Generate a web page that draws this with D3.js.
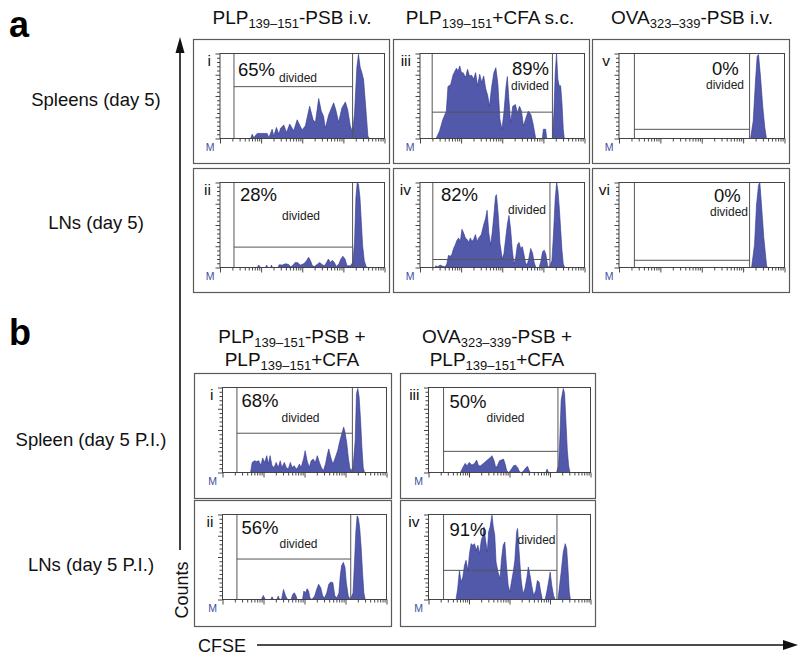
<!DOCTYPE html>
<html><head><meta charset="utf-8">
<script src="https://cdn.jsdelivr.net/npm/d3@7"></script>
<style>body{margin:0;background:#fff} svg{display:block}</style>
</head><body><svg id="c" width="800" height="661"></svg>
<script>
// ---------------- data ----------------
const panelNames = ["i","ii","iii","iv","v","vi","i","ii","iii","iv"];
const percentDivided = [65,28,89,82,0,0,68,56,50,91];
// marker gate (M1): left / right edge (relative log channel 0-100) and height (% of max count)
const gateLeft  = [8.5,8.5,7.4,7.8,9.3,9.3,8.8,8.8,9.3,9.3];
const gateRight = [80.6,80.6,80.5,79.0,78.9,78.9,79.2,78.2,79.9,79.3];
const gateLevel = [61,24,31,9.4,10.8,8.5,46.2,47.6,24.9,34.3];

// histograms: [relative log CFSE channel (0-100), counts (% of max)]
const histAi = [[18.6,0],[19.6,5],[20.6,1],[22.6,6],[28.7,6],[29.7,1],[31.7,11],[32.7,3],[34.3,13],[35.8,5],[36.8,12],[38.8,16],[40.4,7],[42.4,17],[44.8,9],[46.9,22],[49.9,10],[51.9,15],[54.5,38],[56.6,22],[58,19],[60,47],[61.6,32],[63,26],[64,12],[66.1,28],[69.1,42],[70.5,33],[72.1,19],[74.1,36],[76.2,43],[77.6,34],[79.2,15],[80.6,7],[81.8,30],[83.2,84],[84.2,99],[85.2,84],[86.3,77],[87.3,69],[88.7,34],[89.9,3],[90.7,0]];
const histAii = [[22.6,0],[23.6,2.8],[24.6,0],[27.7,0],[28.3,2.8],[29.1,0],[30.7,0],[31.3,2.8],[31.9,0],[35.2,0],[36.0,3.2],[37.8,2.8],[39.8,4.4],[41.8,3.6],[42.8,0.8],[44.0,2],[45.7,6],[47.3,5.6],[48.9,2.8],[50.9,4.4],[52.5,7.6],[53.9,12],[54.9,8.4],[56.2,2],[57.4,1.2],[59.0,3.6],[60.6,6],[62.0,3.6],[63.4,2],[64.6,5.2],[65.9,10],[67.1,6],[68.3,8.4],[69.5,6],[70.7,1.2],[72.3,4.4],[73.5,10],[74.7,13.2],[76.0,10],[77.2,2],[79.2,2],[80.8,6],[81.8,30],[82.6,82],[83.4,100],[84.2,98],[85.1,82],[85.9,54],[86.7,26],[87.7,8],[88.9,0.8],[89.7,0]];
const histAiii = [[9.8,0],[11.9,8.9],[13.9,22.5],[16.0,32.2],[17.0,61.2],[18.6,63.2],[20.1,74.8],[22.1,82.6],[23.2,79.8],[24.2,85.3],[25.2,77.5],[26.2,77.5],[27.7,71.7],[28.9,81.4],[30.1,73.6],[31.4,74.4],[32.6,69.8],[33.8,77.5],[35.0,62.0],[36.3,75.6],[37.5,65.9],[38.7,73.6],[40.0,58.1],[41.2,50.4],[42.2,38.0],[43.6,61.2],[44.9,77.5],[46.1,83.3],[47.3,65.1],[48.6,22.5],[49.8,10.9],[51.0,30.2],[52.3,61.2],[53.1,72.9],[53.9,49.6],[55.1,18.6],[56.4,38.0],[58.0,39.9],[59.2,30.2],[60.5,38.0],[61.7,32.2],[62.9,14.7],[64.1,22.5],[65.8,32.2],[67.4,28.3],[68.6,18.6],[69.7,7.0],[70.3,0],[74.4,0],[75.0,10.9],[76.4,10.9],[77.0,0],[80.5,0],[81.4,30.2],[82.2,76.7],[83.0,100],[83.8,69.8],[84.6,62.0],[85.5,62.0],[86.3,41.9],[87.1,10.9],[87.7,0]];
const histAiv = [[9.2,0],[9.6,2.0],[10.8,0.8],[12.2,2.9],[13.7,1.6],[15.3,0.8],[16.3,4.1],[17.3,14.3],[18.4,13.1],[19.4,15.5],[20.4,22.4],[21.4,26.5],[22.4,31.8],[23.5,34.7],[24.5,30.6],[25.5,44.9],[26.5,40.8],[27.6,34.7],[28.8,32.7],[29.6,29.4],[30.6,34.7],[31.6,30.6],[32.7,33.5],[33.7,38.8],[34.7,30.6],[35.7,34.7],[37.3,38.8],[38.8,51.0],[39.8,57.1],[40.8,67.3],[41.8,40.8],[42.9,26.5],[43.9,40.8],[44.9,61.2],[45.9,83.7],[46.5,85.7],[47.6,61.2],[48.6,28.6],[50.0,10.2],[51.0,16.3],[52.0,32.7],[53.1,51.0],[54.1,61.2],[55.1,44.9],[56.1,20.4],[57.1,4.1],[58.2,12.2],[59.2,26.5],[60.2,29.4],[61.2,22.4],[62.2,24.5],[63.3,14.3],[64.3,4.1],[65.3,4.1],[66.3,12.2],[67.3,22.4],[68.4,17.1],[69.4,6.1],[70.4,0],[72.4,0],[73.5,7.3],[74.5,18.4],[75.5,20.4],[76.5,15.5],[77.6,2.0],[78.6,0],[80.2,8.2],[81.2,40.8],[82.2,81.6],[83.1,100],[83.9,89.8],[84.7,69.4],[85.5,44.9],[86.3,20.4],[87.1,4.1],[88.0,0]];
const histAv = [[79.5,0],[81.1,20.8],[82.5,68.8],[83.5,96.8],[84.3,98.8],[85.5,72.8],[86.9,36.8],[88.1,12.8],[89.1,0]];
const histAvi = [[80.1,0],[81.9,27.1],[83.1,73.6],[84.3,96.9],[85.1,100],[86.1,73.6],[87.5,34.9],[89.1,3.9],[89.5,0]];
const histBi = [[17.1,0],[18.1,11.9],[19.5,13.8],[20.8,13.0],[22.2,13.8],[23.3,7.9],[24.5,17.0],[25.7,11.9],[27.0,19.8],[28.0,9.9],[29.0,19.8],[30.2,7.9],[31.5,5.9],[32.7,11.9],[34.0,5.9],[35.2,13.8],[36.2,5.9],[37.7,11.9],[38.9,5.9],[40.1,4.0],[41.4,11.9],[42.4,5.9],[43.8,7.9],[44.9,4.0],[45.9,5.9],[46.9,9.9],[47.9,5.9],[49.4,15.8],[50.4,25.7],[51.6,13.8],[52.9,5.9],[54.1,13.8],[55.3,15.8],[56.6,11.9],[57.8,19.8],[59.1,11.9],[60.3,5.9],[61.5,2.0],[62.8,9.9],[64.0,21.7],[64.8,27.7],[66.0,17.8],[67.3,9.9],[68.5,15.8],[70.2,25.7],[71.6,37.5],[73.0,47.4],[73.9,53.4],[74.7,47.4],[75.7,35.6],[76.7,17.8],[77.6,5.9],[78.4,2.0],[79.6,5.9],[80.9,37.5],[81.7,92.9],[82.5,98.8],[83.3,88.9],[84.2,61.3],[85.0,29.6],[85.8,5.9],[86.6,0]];
const histBii = [[23.7,0],[24.9,4.8],[26.1,0],[29.4,0],[30.2,3.2],[31.1,0],[33.1,0],[34.0,4.0],[34.8,0],[36.0,0],[37.2,11.9],[38.5,4.0],[39.7,0],[41.8,0],[42.8,6.0],[43.8,7.9],[44.9,4.0],[45.5,0],[48.8,0],[49.6,9.9],[50.6,7.9],[51.6,12.7],[52.5,9.9],[53.3,2.0],[54.5,0],[56.2,4.0],[57.4,11.9],[58.6,17.9],[59.9,13.9],[61.1,4.0],[62.3,2.0],[63.6,7.9],[64.8,17.9],[66.0,20.6],[67.3,19.8],[68.5,4.0],[69.8,2.0],[71.0,7.9],[71.8,27.8],[72.6,39.7],[73.7,43.7],[74.7,37.7],[75.5,19.8],[76.7,4.0],[78.0,0],[79.6,7.9],[80.5,43.7],[81.3,79.4],[82.1,98.4],[82.9,95.2],[83.7,83.3],[84.6,59.5],[85.4,31.7],[86.2,7.9],[87.0,0]];
const histBiii = [[19.7,0],[21.2,5.9],[22.6,10.7],[23.9,7.9],[25.1,11.9],[26.8,8.7],[28.4,10.7],[29.7,14.6],[30.9,7.9],[32.2,7.9],[33.4,9.9],[34.6,11.9],[36.3,14.6],[37.8,17.0],[39.2,19.8],[40.5,13.8],[41.5,5.9],[42.5,7.9],[43.8,13.8],[45.0,14.6],[46.3,15.8],[47.3,9.9],[48.3,2.0],[49.6,0],[51.2,4.0],[52.5,7.9],[53.7,8.7],[55.0,5.9],[56.2,0.8],[57.5,0],[58.7,2.0],[60.2,5.9],[61.2,7.1],[62.2,2.0],[62.9,0],[72.4,0],[73.2,4.0],[74.1,0],[79.0,0],[80.3,7.9],[81.1,41.5],[81.9,85.0],[83.2,98.8],[84.0,92.9],[84.9,57.3],[85.7,25.7],[86.5,7.9],[87.3,0]];
const histBiv = [[17.0,0],[18.0,12.6],[19.1,34.3],[20.1,20.5],[21.2,26.4],[22.2,40.2],[23.2,46.1],[24.3,34.3],[25.3,53.9],[26.3,65.7],[27.4,63.8],[28.4,65.7],[29.5,57.9],[30.5,63.8],[31.5,53.9],[32.6,69.7],[33.6,75.6],[34.2,85.4],[35.1,71.7],[36.3,55.9],[37.1,79.5],[38.0,85.4],[39.2,99.2],[40.0,85.4],[40.9,75.6],[41.7,44.1],[42.9,32.3],[44.2,24.4],[45.0,46.1],[46.1,63.8],[47.1,67.7],[48.1,40.2],[49.2,16.5],[50.2,8.7],[51.2,20.5],[52.3,32.3],[53.3,46.1],[54.4,79.5],[55.0,83.5],[55.8,59.8],[57.1,24.4],[58.3,6.7],[59.5,12.6],[60.8,26.4],[61.6,38.2],[62.7,28.3],[63.7,16.5],[64.9,4.7],[66.2,10.6],[67.2,22.4],[68.3,20.5],[69.3,8.7],[70.3,0],[72.0,0],[73.0,8.7],[74.1,20.5],[75.1,32.3],[76.1,16.5],[77.2,4.7],[78.2,0],[79.9,0],[80.7,12.6],[81.9,32.3],[83.2,55.9],[84.4,65.7],[85.3,59.8],[86.1,36.2],[86.9,8.7],[87.6,0]];
const histograms = [histAi, histAii, histAiii, histAiv, histAv, histAvi, histBi, histBii, histBiii, histBiv];

const titleA = [["PLP","139–151","-PSB i.v."],["PLP","139–151","+CFA s.c."],["OVA","323–339","-PSB i.v."]];
const titleB = [[["PLP","139–151","-PSB +"],["PLP","139–151","+CFA"]],[["OVA","323–339","-PSB +"],["PLP","139–151","+CFA"]]];
const rowLabelsA = ["Spleens (day 5)","LNs (day 5)"];
const rowLabelsB = ["Spleen (day 5 P.I.)","LNs (day 5 P.I.)"];
const cfseDomain = [1, 10000];   // 4 log decades
const channelDomain = [0, 100];
const countDomain = [0, 100];

// ---------------- layout ----------------
const boxes = [
  {x:193,y:39,w:196,h:124,fl:27},{x:193,y:168,w:196,h:124,fl:27},
  {x:393,y:39,w:196,h:124,fl:27},{x:393,y:168,w:196,h:124,fl:27},
  {x:592,y:39,w:197,h:124,fl:27},{x:592,y:168,w:197,h:124,fl:27},
  {x:194,y:373,w:197,h:125,fl:28.5},{x:194,y:500,w:197,h:126,fl:28.5},
  {x:400,y:373,w:195,h:125,fl:28.5},{x:400,y:500,w:195,h:126,fl:28.5}
];
const textPos = [
  [18,22,59,28],[20,18.4,62,37.7],[92,21,91,36],[21,18.4,88,31.7],[93,21.5,87,35],
  [95,19,91,33],[19,19,59,34.5],[19,19.7,57,33],[21,20.7,58,34],[21,21.7,89,29]
];

const FONT = "'Liberation Sans', Arial, Helvetica, sans-serif";
const svg = d3.select("#c");
const defs = svg.append("defs");

// panel letters
svg.append("text").attr("x",9).attr("y",37).attr("font-family",FONT).attr("font-weight","bold")
  .attr("font-size",36).text("a");
svg.append("text").attr("x",9).attr("y",345).attr("font-family",FONT).attr("font-weight","bold")
  .attr("font-size",36).text("b");

function subTitle(g, x, y, parts){
  const t = g.append("text").attr("x",x).attr("y",y).attr("text-anchor","middle")
    .attr("font-family",FONT).attr("font-size",19).attr("fill","#111");
  t.append("tspan").text(parts[0]);
  t.append("tspan").attr("font-size",13).attr("dy",4).text(parts[1]);
  t.append("tspan").attr("dy",-4).text(parts[2]);
}
const titleCentersA = [292, 490, 692];
titleA.forEach((p,i)=>subTitle(svg, titleCentersA[i], 24, p));
const titleCentersB = [292, 497];
titleB.forEach((lines,i)=>{ subTitle(svg,titleCentersB[i],343,lines[0]); subTitle(svg,titleCentersB[i],366,lines[1]); });

// row labels
const rowYA = [106, 229], rowYB = [446, 571];
rowLabelsA.forEach((t,i)=>svg.append("text").attr("x",96).attr("y",rowYA[i]).attr("text-anchor","middle")
  .attr("font-family",FONT).attr("font-size",18.5).attr("fill","#111").text(t));
rowLabelsB.forEach((t,i)=>svg.append("text").attr("x",91).attr("y",rowYB[i]).attr("text-anchor","middle")
  .attr("font-family",FONT).attr("font-size",18.5).attr("fill","#111").text(t));

// axes arrows
svg.append("line").attr("x1",180).attr("x2",180).attr("y1",550).attr("y2",50).attr("stroke","#111").attr("stroke-width",1.6);
svg.append("path").attr("d","M180,37 L175.5,53 L184.5,53 Z").attr("fill","#111");
svg.append("text").attr("transform","translate(188,590) rotate(-90)").attr("text-anchor","middle")
  .attr("font-family",FONT).attr("font-size",18).attr("fill","#111").text("Counts");
svg.append("line").attr("x1",257).attr("x2",786).attr("y1",645).attr("y2",645).attr("stroke","#111").attr("stroke-width",1.6);
svg.append("path").attr("d","M798,645 L783,640 L783,650 Z").attr("fill","#111");
svg.append("text").attr("x",198).attr("y",652).attr("font-family",FONT).attr("font-size",18).attr("fill","#111").text("CFSE");

// panels
boxes.forEach((b,i)=>{
  const g = svg.append("g");
  g.append("rect").attr("x",b.x+0.5).attr("y",b.y+0.5).attr("width",b.w).attr("height",b.h)
    .attr("fill","#fff").attr("stroke","#5a5a5a").attr("stroke-width",1.2);
  const fx0 = b.x + b.fl, fx1 = b.x + b.w - 4.5, fy0 = b.y + 14.5, fy1 = fy0 + 85;
  const x = d3.scaleLinear().domain(channelDomain).range([fx0, fx1]);
  const xLog = d3.scaleLog().domain(cfseDomain).range([fx0, fx1]);
  const y = d3.scaleLinear().domain(countDomain).range([fy1, fy0]);

  const cid = "clip"+i;
  defs.append("clipPath").attr("id",cid).append("rect").attr("x",fx0).attr("y",fy0-1).attr("width",fx1-fx0).attr("height",fy1-fy0+1);

  // histogram
  const area = d3.area().x(d=>x(d[0])).y0(y(0)).y1(d=>y(d[1]));
  g.append("path").datum(histograms[i]).attr("d",area).attr("clip-path",`url(#${cid})`)
    .attr("fill","#5259aa").attr("stroke","#303890").attr("stroke-width",0.6);

  // gate
  const gc = "#555";
  g.append("line").attr("x1",x(gateLeft[i])).attr("x2",x(gateLeft[i])).attr("y1",fy0).attr("y2",fy1).attr("stroke",gc).attr("stroke-width",1);
  g.append("line").attr("x1",x(gateRight[i])).attr("x2",x(gateRight[i])).attr("y1",fy0).attr("y2",fy1).attr("stroke",gc).attr("stroke-width",1);
  g.append("line").attr("x1",x(gateLeft[i])).attr("x2",x(gateRight[i])).attr("y1",y(gateLevel[i])).attr("y2",y(gateLevel[i])).attr("stroke",gc).attr("stroke-width",1);

  // frame
  g.append("rect").attr("x",fx0).attr("y",fy0).attr("width",fx1-fx0).attr("height",fy1-fy0)
    .attr("fill","none").attr("stroke","#444").attr("stroke-width",1);

  // x axis (log ticks)
  const major = xLog.ticks().filter(v=>Math.abs(Math.log10(v)-Math.round(Math.log10(v)))<1e-9);
  const minor = xLog.ticks().filter(v=>!major.includes(v));
  const axM = g.append("g").attr("transform",`translate(0,${fy1})`)
    .call(d3.axisBottom(xLog).tickValues(major).tickSize(5).tickFormat(""));
  const axm = g.append("g").attr("transform",`translate(0,${fy1})`)
    .call(d3.axisBottom(xLog).tickValues(minor).tickSize(3).tickFormat(""));
  // y axis
  const yTicks = d3.range(0, 101, 5);
  const axY = g.append("g").attr("transform",`translate(${fx0},0)`)
    .call(d3.axisLeft(y).tickValues(yTicks).tickSize(3).tickFormat(""));
  [axM,axm,axY].forEach(a=>{ a.select(".domain").remove(); a.selectAll("line").attr("stroke","#333").attr("stroke-width",0.9); });
  axY.selectAll(".tick").filter(d=>d%25===0).select("line").attr("x2",-4.5);

  // labels
  g.append("text").attr("x",fx0-9).attr("y",fy0+12.5).attr("text-anchor","end")
    .attr("font-family",FONT).attr("font-size",15.5).attr("fill","#111").text(panelNames[i]);
  g.append("text").attr("x",fx0-10).attr("y",fy1+12).attr("text-anchor","middle")
    .attr("font-family",FONT).attr("font-size",10.5).attr("fill","#3d4fa8").text("M");
  const tp = textPos[i];
  g.append("text").attr("x",fx0+tp[0]).attr("y",fy0+tp[1]).attr("font-family",FONT).attr("font-size",18.5)
    .attr("fill","#111").text(percentDivided[i]+"%");
  g.append("text").attr("x",fx0+tp[2]).attr("y",fy0+tp[3]).attr("font-family",FONT).attr("font-size",12)
    .attr("fill","#222").text("divided");
});
</script></body></html>
